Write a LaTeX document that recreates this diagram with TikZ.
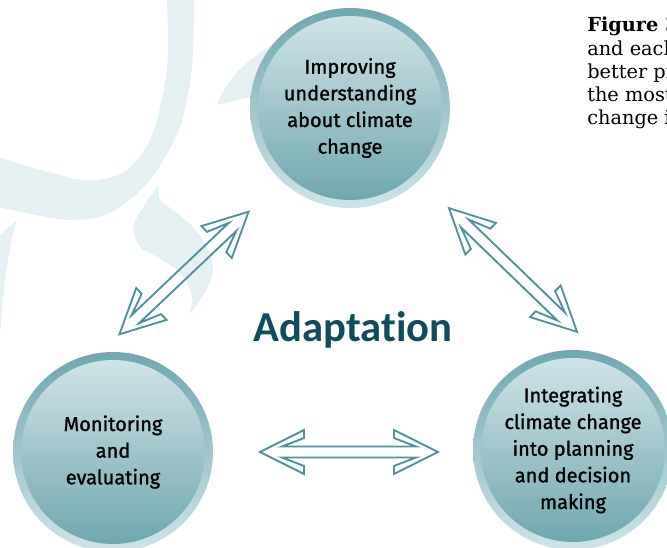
\documentclass[tikz,border=0pt]{standalone}
\usepackage{fontspec}
\setmainfont{Fira Sans}
\newfontfamily\bubblefont[FakeBold=1.2]{Fira Sans}
\newfontfamily\titlefont[Ligatures=NoCommon]{Carlito}
\newfontfamily\figfont{DejaVu Serif}
\definecolor{ringdark}{HTML}{6FA8B0}
\definecolor{ringlight}{HTML}{D0E4E8}
\definecolor{disctop}{HTML}{D3E6EA}
\definecolor{discbottom}{HTML}{6BA4AC}
\definecolor{arrowteal}{HTML}{4F91A1}
\definecolor{titleteal}{HTML}{0F4C5C}
\definecolor{swirl}{HTML}{E5F0F2}
\tikzset{
  disc/.style={top color=disctop, bottom color=discbottom},
  bubble/.style={circle, minimum size=150pt, inner sep=0pt, align=center,
    top color=ringdark, bottom color=ringlight, text=black,
    font=\bubblefont\fontsize{15}{20}\selectfont,
    path picture={\shade[disc] (path picture bounding box.center) circle (69pt);}},
  hollow/.style={draw=arrowteal, line width=1.4pt, line join=miter},
  figline/.style={anchor=base west, inner sep=0pt, font=\figfont\fontsize{14.5}{17}\selectfont},
  pics/twoway/.style={code={
    \draw[hollow] (-89,0) -- (-45,22) -- (-45,14) -- (-67,5.5) -- (67,5.5) -- (45,14) -- (45,22)
      -- (89,0) -- (45,-22) -- (45,-14) -- (67,-5.5) -- (-67,-5.5) -- (-45,-14) -- (-45,-22) -- cycle;
  }}
}
\begin{document}
\begin{tikzpicture}[x=0.75pt,y=-0.75pt]
  \useasboundingbox (0,0) rectangle (667,548);
  \fill[swirl] plot[smooth] coordinates {(-2,157) (83,180) (127,170) (153,133) (167,67) (167,-2)}
    -- plot[smooth] coordinates {(194,-2) (192,67) (180,127) (150,180) (110,213) (67,220) (-2,207)} -- cycle;
  \fill[swirl] (217,105) .. controls (225,82) and (245,58) .. (285,38) -- (300,60) -- (255,96) -- cycle;
  \fill[swirl] plot[smooth cycle] coordinates {(158,187) (160,200) (173,210) (193,227) (207,247) (213,267)
    (210,283) (200,300) (190,313) (192,300) (188,283) (177,270) (157,257) (140,247) (133,230) (137,217) (150,197)};
  \fill[swirl] (-2,238) .. controls (5,230) .. (17,220) .. controls (8,250) and (3,290) .. (0,335) -- (-2,335) -- cycle;

  \node[bubble] (improve) at (350,108) {Improving\\understanding\\about climate\\change};
  \node[bubble] (monitor) at (113,452) {Monitoring\\and\\evaluating};
  \node[bubble] (integrate) at (573,450) {Integrating\\climate change\\into planning\\and decision\\making};

  \pic[rotate=43.5] at (184,273) {twoway};
  \pic[rotate=-44] at (513,270) {twoway};
  \pic at (349,452) {twoway};

  \node[anchor=base, text=titleteal, font=\titlefont\fontsize{32}{38}\bfseries] (adapt) at (353,342) {Adaptation};

  \node[figline] (fig0) at (587,32) {\bfseries Figure 3};
  \foreach \txt [count=\i] in {and each, better pr, the most, change i}
    \node[figline] (fig\i) at (587,32+23.2*\i) {\txt};
\end{tikzpicture}
\end{document}
